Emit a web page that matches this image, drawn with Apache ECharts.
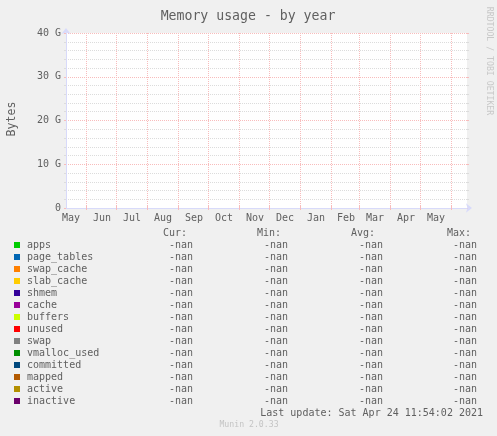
<!DOCTYPE html>
<html lang="en">

<head>
	<title>Memory usage - by year</title>
	<meta http-equiv="content-type" content="text/html; charset=utf-8">
	<script src="https://cdn.jsdelivr.net/npm/echarts@6/dist/echarts.min.js"></script>
	<style type="text/css">
		html,
		body {
			margin: 0;
			padding: 0;
			background: #f0f0f0;
			overflow: hidden;
		}
	</style>
</head>

<body>
	<div id="main" style="width: 497px; height: 436px;"></div>
	<script>
		// x axis range and month boundaries
		var xStart = '2020-05-12';
		var xEnd = '2021-06-17';
		var monthStarts = ['2020-06-01', '2020-07-01', '2020-08-01', '2020-09-01', '2020-10-01', '2020-11-01', '2020-12-01',
			'2021-01-01', '2021-02-01', '2021-03-01', '2021-04-01', '2021-05-01', '2021-06-01'];
		var labelDates = ['2020-05-17', '2020-06-17', '2020-07-17', '2020-08-17', '2020-09-17', '2020-10-17', '2020-11-17',
			'2020-12-17', '2021-01-17', '2021-02-16', '2021-03-17', '2021-04-17', '2021-05-17'];
		var monthNames = ['Jan', 'Feb', 'Mar', 'Apr', 'May', 'Jun', 'Jul', 'Aug', 'Sep', 'Oct', 'Nov', 'Dec'];

		// legend table
		var names = ['apps', 'page_tables', 'swap_cache', 'slab_cache', 'shmem', 'cache', 'buffers', 'unused', 'swap',
			'vmalloc_used', 'committed', 'mapped', 'active', 'inactive'];
		var colors = ['#00cc00', '#0066b3', '#ff8000', '#ffcc00', '#330099', '#990099', '#ccff00', '#ff0000', '#808080',
			'#008f00', '#00487d', '#b35a00', '#b38f00', '#6b006b'];
		var curValues = ['-nan', '-nan', '-nan', '-nan', '-nan', '-nan', '-nan', '-nan', '-nan', '-nan', '-nan', '-nan', '-nan', '-nan'];
		var minValues = ['-nan', '-nan', '-nan', '-nan', '-nan', '-nan', '-nan', '-nan', '-nan', '-nan', '-nan', '-nan', '-nan', '-nan'];
		var avgValues = ['-nan', '-nan', '-nan', '-nan', '-nan', '-nan', '-nan', '-nan', '-nan', '-nan', '-nan', '-nan', '-nan', '-nan'];
		var maxValues = ['-nan', '-nan', '-nan', '-nan', '-nan', '-nan', '-nan', '-nan', '-nan', '-nan', '-nan', '-nan', '-nan', '-nan'];

		var mono = '"DejaVu Sans Mono", monospace';
		var textColor = '#606060';
		var axisBlue = '#d8dafa';
		var pink = '#f8bcbc';
		var gray = '#dcdcdc';

		function txt(x, y, s, align, size, color, rotation) {
			return {
				type: 'text',
				x: x,
				y: y,
				rotation: rotation || 0,
				silent: true,
				style: {
					text: s,
					font: (size || 10) + 'px ' + mono,
					fill: color || textColor,
					align: align || 'left',
					verticalAlign: 'middle'
				}
			};
		}

		// stats columns, right aligned
		var columns = [
			{ head: 'Cur:', headX: 187, x: 193, values: curValues },
			{ head: 'Min:', headX: 281, x: 288, values: minValues },
			{ head: 'Avg:', headX: 375, x: 383, values: avgValues },
			{ head: 'Max:', headX: 471, x: 477, values: maxValues }
		];
		var texts = [];
		columns.forEach(function (col) {
			texts.push(txt(col.headX, 233, col.head, 'right'));
			col.values.forEach(function (v, i) {
				texts.push(txt(col.x, 245.5 + i * 12, v, 'right'));
			});
		});
		texts.push(txt(483, 413, 'Last update: Sat Apr 24 11:54:02 2021', 'right'));
		texts.push(txt(249, 424.5, 'Munin 2.0.33', 'center', 8.2, '#c4c4c4'));
		texts.push(txt(489, 61, 'RRDTOOL / TOBI OETIKER', 'center', 8.2, '#c8c8c8', -Math.PI / 2));
		texts.push(txt(11.5, 119, 'Bytes', 'center', 11.6, textColor, Math.PI / 2));

		var chart = echarts.init(document.getElementById('main'), null, { renderer: 'canvas' });

		chart.setOption({
			backgroundColor: '#f0f0f0',
			animation: false,
			title: {
				text: 'Memory usage - by year',
				left: 243,
				top: 5,
				textAlign: 'center',
				textStyle: { fontFamily: mono, fontSize: 13.2, fontWeight: 'normal', color: textColor }
			},
			grid: { left: 66, right: 30, top: 33, bottom: 228, show: true, backgroundColor: '#ffffff', borderWidth: 0 },
			legend: {
				left: 14,
				top: 240,
				orient: 'vertical',
				icon: 'rect',
				itemWidth: 6,
				itemHeight: 6,
				itemGap: 2,
				padding: 0,
				selectedMode: false,
				textStyle: { fontFamily: mono, fontSize: 10, color: textColor, padding: [0, 0, 0, 2] },
				data: names
			},
			xAxis: [{
				type: 'value',
				min: Date.parse(xStart),
				max: Date.parse(xEnd),
				axisLine: {
					show: true,
					lineStyle: { color: axisBlue, width: 1 },
					symbol: ['none', 'arrow'],
					symbolSize: [7, 6],
					symbolOffset: [0, 5]
				},
				axisTick: { show: true, customValues: monthStarts.map(Date.parse), length: 2, lineStyle: { color: pink } },
				splitLine: { show: true, lineStyle: { color: pink, type: [1, 1], width: 1 } },
				axisLabel: {
					customValues: labelDates.map(Date.parse),
					hideOverlap: false,
					showMinLabel: true,
					showMaxLabel: true,
					margin: 5,
					fontFamily: mono,
					fontSize: 10,
					color: textColor,
					formatter: function (v) {
						return monthNames[new Date(v).getUTCMonth()];
					}
				}
			}, {
				// small ticks along the top edge
				type: 'value',
				position: 'top',
				min: Date.parse(xStart),
				max: Date.parse(xEnd),
				axisLine: { show: false },
				axisTick: { show: true, customValues: monthStarts.map(Date.parse), length: 2, lineStyle: { color: pink } },
				axisLabel: { show: false },
				splitLine: { show: false }
			}],
			yAxis: [{
				type: 'value',
				min: 0,
				max: 40,
				interval: 10,
				axisLine: {
					show: true,
					lineStyle: { color: axisBlue, width: 1 },
					symbol: ['none', 'arrow'],
					symbolSize: [7, 6],
					symbolOffset: [0, 5]
				},
				axisTick: { show: true, length: 2, lineStyle: { color: pink } },
				minorTick: { show: true, splitNumber: 5, length: 2, lineStyle: { color: gray } },
				splitLine: { show: true, lineStyle: { color: pink, type: [1, 1], width: 1 } },
				minorSplitLine: { show: true, lineStyle: { color: gray, type: [1, 1], width: 1 } },
				axisLabel: {
					margin: 5,
					padding: [4, 0, 0, 0],
					fontFamily: mono,
					fontSize: 10,
					color: textColor,
					formatter: function (v) {
						return v === 0 ? '0' : v + ' G';
					}
				}
			}, {
				// small ticks along the right edge
				type: 'value',
				position: 'right',
				min: 0,
				max: 40,
				interval: 10,
				axisLine: { show: false },
				axisTick: { show: true, length: 2, lineStyle: { color: pink } },
				minorTick: { show: true, splitNumber: 5, length: 2, lineStyle: { color: gray } },
				axisLabel: { show: false },
				splitLine: { show: false }
			}],
			// every value in the source is -nan, so nothing is plotted
			series: names.map(function (name, i) {
				return { name: name, type: 'line', color: colors[i], data: [] };
			}),
			graphic: texts
		});
	</script>
</body>

</html>
